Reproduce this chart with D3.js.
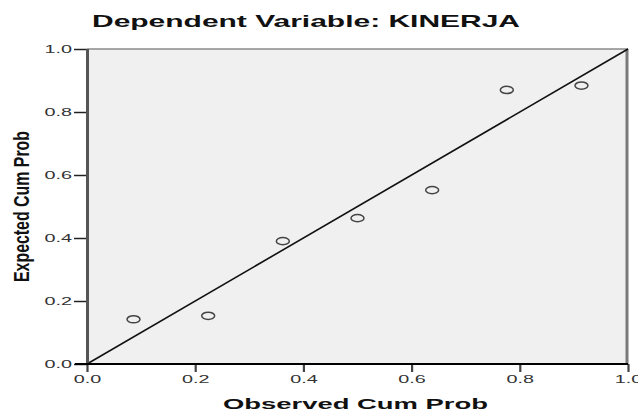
<!DOCTYPE html>
<html>
<head>
<meta charset="utf-8">
<script src="https://cdn.jsdelivr.net/npm/d3@7"></script>
<style>
  body { margin: 0; background: #fff; }
  svg { display: block; }
</style>
</head>
<body>
<div id="chart"></div>
<script>
// P-P plot values
const observed = [0.086, 0.224, 0.362, 0.5, 0.638, 0.776, 0.914];
const expected = [0.142, 0.153, 0.390, 0.463, 0.552, 0.870, 0.884];
const tickValues = [0, 0.2, 0.4, 0.6, 0.8, 1.0];
const refLine = [0, 1];

const width = 638, height = 412;
const margin = {top: 49, right: 10, bottom: 48, left: 87};
const font = "'Liberation Sans', Arial, sans-serif";
const sx = 1.8; // the original chart is stretched sideways

let svg = d3.select("#chart").append("svg")
  .attr("width", width)
  .attr("height", height);

let x = d3.scaleLinear().domain([0, 1]).range([margin.left, width - margin.right]);
let y = d3.scaleLinear().domain([0, 1]).range([height - margin.bottom, margin.top]);

// plot background
svg.append("rect")
  .attr("x", x(0))
  .attr("y", y(1))
  .attr("width", x(1) - x(0))
  .attr("height", y(0) - y(1))
  .attr("fill", "#f0f0f0");

// frame
svg.append("line")
  .attr("x1", x(0)).attr("x2", x(1))
  .attr("y1", y(1)).attr("y2", y(1))
  .style("stroke", "#8a8a8a").style("stroke-width", 1.5);
svg.append("line")
  .attr("x1", x(1) - 1).attr("x2", x(1) - 1)
  .attr("y1", y(1)).attr("y2", y(0))
  .style("stroke", "#7a7a7a").style("stroke-width", 3);

// reference line
svg.append("line")
  .attr("x1", x(refLine[0])).attr("y1", y(refLine[0]))
  .attr("x2", x(refLine[1])).attr("y2", y(refLine[1]))
  .style("stroke", "#111").style("stroke-width", 1.6);

// points
svg.selectAll(".pt")
  .data(observed)
  .enter().append("ellipse")
  .attr("class", "pt")
  .attr("cx", d => x(d))
  .attr("cy", (d, i) => y(expected[i]))
  .attr("rx", 6.5)
  .attr("ry", 3.6)
  .attr("fill", "none")
  .style("stroke", "#444")
  .style("stroke-width", 1.5);

// y axis
let yAxis = svg.append("g")
  .attr("transform", "translate(" + x(0) + ",0)")
  .call(d3.axisLeft(y).tickValues(tickValues).tickFormat(d3.format(".1f")).tickSize(13).tickPadding(2));
yAxis.select(".domain").remove();
yAxis.selectAll(".tick line").style("stroke", "#222").style("stroke-width", 1.5);
yAxis.selectAll(".tick text")
  .attr("x", 0).attr("dy", "0.36em")
  .attr("transform", "translate(-15,0) scale(" + sx + ",1)")
  .style("font-family", font).style("font-size", "11px").style("fill", "#333");

// x axis
let xAxis = svg.append("g")
  .attr("transform", "translate(0," + y(0) + ")")
  .call(d3.axisBottom(x).tickValues(tickValues).tickFormat(d3.format(".1f")).tickSize(8).tickPadding(3));
xAxis.select(".domain").remove();
xAxis.selectAll(".tick line").style("stroke", "#444").style("stroke-width", 2.2);
xAxis.selectAll(".tick text")
  .attr("y", 0).attr("dy", 0)
  .attr("transform", "translate(0,19) scale(" + sx + ",1)")
  .style("font-family", font).style("font-size", "11px").style("fill", "#333");

// axis lines
svg.append("line")
  .attr("x1", x(0) + 0.5).attr("x2", x(0) + 0.5)
  .attr("y1", y(1)).attr("y2", y(0))
  .style("stroke", "#555").style("stroke-width", 3);
svg.append("line")
  .attr("x1", x(0) - 12).attr("x2", x(1))
  .attr("y1", y(0)).attr("y2", y(0))
  .style("stroke", "#000").style("stroke-width", 2);

// title
svg.append("text")
  .attr("x", 92)
  .attr("y", 27)
  .attr("textLength", 428)
  .attr("lengthAdjust", "spacingAndGlyphs")
  .style("font-family", font)
  .style("font-size", "17px")
  .style("font-weight", "bold")
  .style("fill", "#111")
  .text("Dependent Variable: KINERJA");

// x label
svg.append("text")
  .attr("x", 223)
  .attr("y", 409)
  .attr("textLength", 265)
  .attr("lengthAdjust", "spacingAndGlyphs")
  .style("font-family", font)
  .style("font-size", "15px")
  .style("font-weight", "bold")
  .style("fill", "#111")
  .text("Observed Cum Prob");

// y label
svg.append("text")
  .attr("transform", "translate(29,207) rotate(-90) scale(1,1.45)")
  .attr("x", -75)
  .attr("y", 0)
  .attr("textLength", 151)
  .attr("lengthAdjust", "spacingAndGlyphs")
  .style("font-family", font)
  .style("font-size", "15px")
  .style("font-weight", "bold")
  .style("fill", "#111")
  .text("Expected Cum Prob");
</script>
</body>
</html>
